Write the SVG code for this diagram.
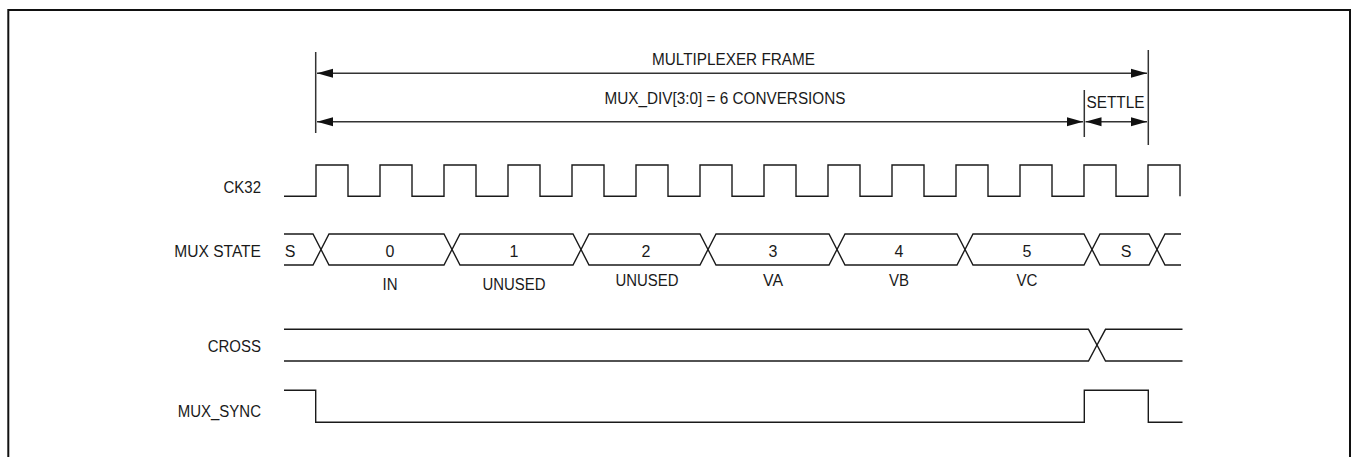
<svg xmlns="http://www.w3.org/2000/svg" width="1353" height="457" viewBox="0 0 1353 457">
<defs>
<style>
.t{font-family:"Liberation Sans",Arial,sans-serif;font-size:16px;fill:#1a1a1a}
.m{text-anchor:middle}
.e{text-anchor:end}
.w{fill:none;stroke:#1a1a1a;stroke-width:1.4;stroke-linejoin:miter}
.d{fill:none;stroke:#333;stroke-width:1.5}
.a{fill:none;stroke:#333;stroke-width:1.5}
</style>
<marker id="ah" markerUnits="userSpaceOnUse" markerWidth="16" markerHeight="10" refX="16" refY="5" orient="auto-start-reverse">
<path d="M0,0.5 L16,5 L0,9.5 Z" fill="#111"/>
</marker>
</defs>
<rect x="8.3" y="10" width="1341.7" height="470" fill="none" stroke="#111" stroke-width="2"/>

<g id="dimensions">
<line class="d" x1="315.7" y1="52" x2="315.7" y2="133"/>
<line class="d" x1="1148.3" y1="50" x2="1148.3" y2="145"/>
<line class="d" x1="1084.3" y1="90" x2="1084.3" y2="137"/>
<line class="a" x1="317" y1="73.3" x2="1147" y2="73.3" marker-start="url(#ah)" marker-end="url(#ah)"/>
<line class="a" x1="317" y1="121.7" x2="1083" y2="121.7" marker-start="url(#ah)" marker-end="url(#ah)"/>
<line class="a" x1="1085.5" y1="121.7" x2="1147" y2="121.7" marker-start="url(#ah)" marker-end="url(#ah)"/>
<text class="t m" x="733.5" y="65" textLength="163" lengthAdjust="spacingAndGlyphs">MULTIPLEXER FRAME</text>
<text class="t m" x="725" y="104" textLength="241" lengthAdjust="spacingAndGlyphs">MUX_DIV[3:0] = 6 CONVERSIONS</text>
<text class="t m" x="1115.5" y="108" textLength="58" lengthAdjust="spacingAndGlyphs">SETTLE</text>
</g>

<g id="ck32">
<text class="t e" x="261" y="192.5" textLength="37.5" lengthAdjust="spacingAndGlyphs">CK32</text>
<path class="w" d="M284,196.3 H316 V165 H348 V196.3 H380 V165 H412 V196.3 H444 V165 H476 V196.3 H508 V165 H540 V196.3 H572 V165 H604 V196.3 H636 V165 H668 V196.3 H700 V165 H732 V196.3 H764 V165 H796 V196.3 H828 V165 H860 V196.3 H892 V165 H924 V196.3 H956 V165 H988 V196.3 H1020 V165 H1052 V196.3 H1084 V165 H1116 V196.3 H1148 V165 H1180 V196.3"/>
</g>

<g id="mux-state">
<text class="t e" x="261" y="257" textLength="86.7" lengthAdjust="spacingAndGlyphs">MUX STATE</text>
<path class="w" d="M284,234 H313 L321,249.5 L329,234 H444 L452,249.5 L460,234 H573 L581,249.5 L589,234 H700 L708,249.5 L716,234 H829 L837,249.5 L845,234 H957 L965,249.5 L973,234 H1084 L1092,249.5 L1100,234 H1149 L1157,249.5 L1165,234 H1181"/>
<path class="w" d="M284,265 H313 L321,249.5 L329,265 H444 L452,249.5 L460,265 H573 L581,249.5 L589,265 H700 L708,249.5 L716,265 H829 L837,249.5 L845,265 H957 L965,249.5 L973,265 H1084 L1092,249.5 L1100,265 H1149 L1157,249.5 L1165,265 H1181"/>
<text class="t m" x="290" y="257">S</text>
<text class="t m" x="390" y="257">0</text>
<text class="t m" x="514" y="257">1</text>
<text class="t m" x="646" y="257">2</text>
<text class="t m" x="773" y="257">3</text>
<text class="t m" x="899" y="257">4</text>
<text class="t m" x="1027" y="257">5</text>
<text class="t m" x="1126" y="257">S</text>
<text class="t m" x="390" y="290" textLength="15" lengthAdjust="spacingAndGlyphs">IN</text>
<text class="t m" x="514" y="290" textLength="63" lengthAdjust="spacingAndGlyphs">UNUSED</text>
<text class="t m" x="647" y="286" textLength="63" lengthAdjust="spacingAndGlyphs">UNUSED</text>
<text class="t m" x="773" y="286" textLength="20" lengthAdjust="spacingAndGlyphs">VA</text>
<text class="t m" x="899" y="286" textLength="20" lengthAdjust="spacingAndGlyphs">VB</text>
<text class="t m" x="1027" y="286" textLength="21" lengthAdjust="spacingAndGlyphs">VC</text>
</g>

<g id="cross">
<text class="t e" x="261" y="352.3" textLength="53.3" lengthAdjust="spacingAndGlyphs">CROSS</text>
<path class="w" d="M284,329.3 H1088.5 L1097,345 L1105.5,329.3 H1182.5"/>
<path class="w" d="M284,361 H1088.5 L1097,345 L1105.5,361 H1182.5"/>
</g>

<g id="mux-sync">
<text class="t e" x="261" y="417" textLength="83.3" lengthAdjust="spacingAndGlyphs">MUX_SYNC</text>
<path class="w" d="M284,390.3 H315.7 V422.3 H1084.3 V390.3 H1148.3 V422.3 H1182.5"/>
</g>
</svg>
